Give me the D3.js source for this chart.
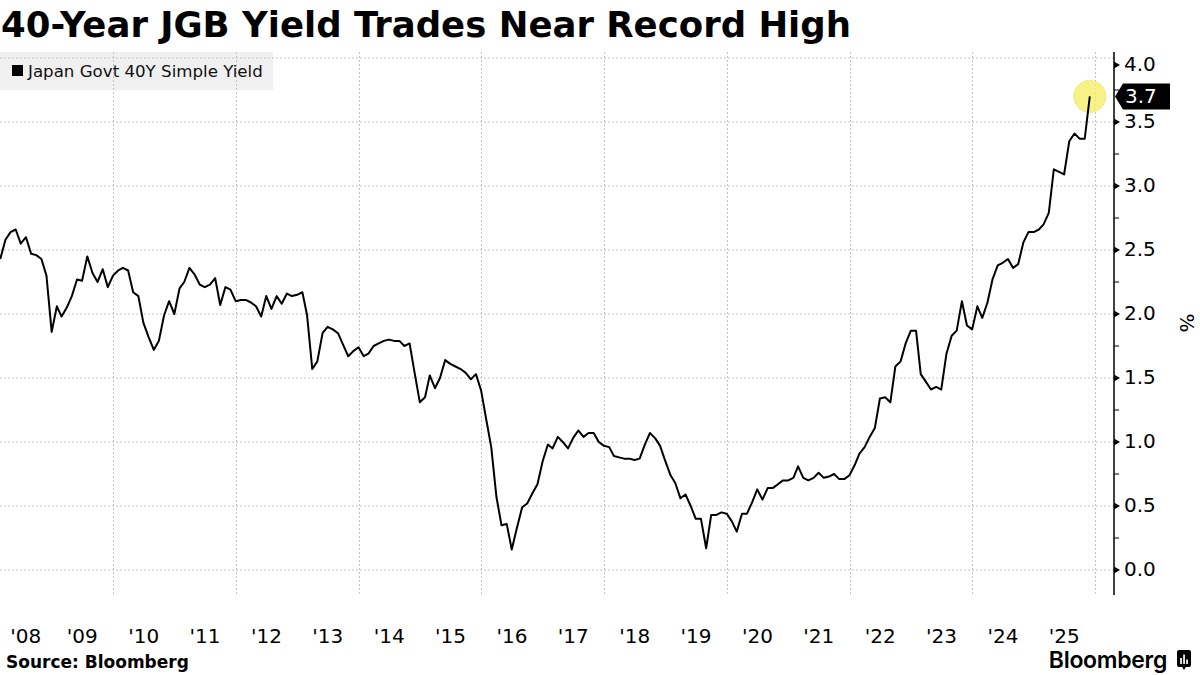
<!DOCTYPE html>
<html>
<head>
<meta charset="utf-8">
<script src="https://cdn.jsdelivr.net/npm/d3@7"></script>
<style>
  body { margin: 0; background: #fff; }
  svg { display: block; font-family: "DejaVu Sans", sans-serif; }
</style>
</head>
<body>
<div id="chart"></div>
<script>
// monthly values, first one is March 2008
var startMonth = "2008-03-01";
var yields = [
  2.43, 2.58, 2.64, 2.66, 2.55, 2.60, 2.47, 2.46, 2.43, 2.30,
  1.86, 2.06, 1.98, 2.05, 2.14, 2.27, 2.26, 2.45, 2.32, 2.25,
  2.35, 2.21, 2.30, 2.34, 2.36, 2.34, 2.17, 2.14, 1.93, 1.82,
  1.72, 1.79, 1.99, 2.10, 2.00, 2.20, 2.25, 2.36, 2.31, 2.23,
  2.21, 2.23, 2.28, 2.07, 2.21, 2.19, 2.10, 2.11, 2.11, 2.09,
  2.06, 1.98, 2.14, 2.04, 2.14, 2.08, 2.16, 2.14, 2.15, 2.17,
  1.99, 1.57, 1.63, 1.85, 1.90, 1.88, 1.85, 1.76, 1.67, 1.71,
  1.74, 1.67, 1.69, 1.75, 1.77, 1.79, 1.80, 1.79, 1.79, 1.75,
  1.77, 1.54, 1.31, 1.35, 1.52, 1.42, 1.50, 1.64, 1.61, 1.59,
  1.57, 1.54, 1.49, 1.53, 1.40, 1.17, 0.96, 0.57, 0.35, 0.36,
  0.16, 0.33, 0.49, 0.52, 0.60, 0.67, 0.85, 0.98, 0.95, 1.04,
  1.00, 0.95, 1.03, 1.09, 1.04, 1.07, 1.07, 1.00, 0.97, 0.96,
  0.89, 0.88, 0.87, 0.87, 0.86, 0.87, 0.98, 1.07, 1.03, 0.97,
  0.85, 0.74, 0.68, 0.56, 0.59, 0.50, 0.40, 0.40, 0.17, 0.43,
  0.43, 0.45, 0.44, 0.38, 0.30, 0.44, 0.44, 0.53, 0.63, 0.55,
  0.64, 0.64, 0.67, 0.70, 0.70, 0.72, 0.81, 0.72, 0.70, 0.72,
  0.76, 0.72, 0.73, 0.75, 0.71, 0.71, 0.74, 0.82, 0.91, 0.96,
  1.04, 1.11, 1.34, 1.35, 1.31, 1.59, 1.63, 1.77, 1.87, 1.87,
  1.53, 1.47, 1.41, 1.43, 1.41, 1.69, 1.83, 1.87, 2.10, 1.91,
  1.88, 2.06, 1.97, 2.09, 2.27, 2.38, 2.40, 2.43, 2.36, 2.39,
  2.56, 2.64, 2.64, 2.66, 2.70, 2.79, 3.13, 3.11, 3.09, 3.35,
  3.41, 3.37, 3.37, 3.70
];
var yTicks = [0, 0.5, 1.0, 1.5, 2.0, 2.5, 3.0, 3.5, 4.0];
var yMinorTicks = [0.25, 0.75, 1.25, 1.75, 2.25, 2.75, 3.25, 3.75];
var labelYears = [2008, 2009, 2010, 2011, 2012, 2013, 2014, 2015, 2016,
                  2017, 2018, 2019, 2020, 2021, 2022, 2023, 2024, 2025];
var gridYears = [2010, 2012, 2014, 2016, 2018, 2020, 2022, 2024, 2026];
var seriesName = "Japan Govt 40Y Simple Yield";
var lastLabel = "3.7";

var width = 1200, height = 675;
var axisX = 1114, plotTop = 52, plotBottom = 595;

var svg = d3.select("#chart")
    .append("svg")
    .attr("width", width)
    .attr("height", height);

var start = d3.timeParse("%Y-%m-%d")(startMonth);
var data = yields.map(function(v, i) {
    return {date: d3.timeMonth.offset(start, i), value: v};
});

var x = d3.scaleTime()
    .domain([new Date(2010, 0, 1), new Date(2026, 0, 1)])
    .range([113, 1095]);
var y = d3.scaleLinear()
    .domain([0, 4])
    .range([570, 58]);

// legend box sits under the grid
svg.append("rect")
    .attr("x", 0).attr("y", 52)
    .attr("width", 273).attr("height", 38)
    .attr("fill", "#f0f0f0");

// grid
svg.selectAll(".hgrid")
    .data(yTicks)
    .enter()
    .append("line")
    .attr("x1", 0).attr("x2", axisX)
    .attr("y1", function(d) { return y(d); })
    .attr("y2", function(d) { return y(d); })
    .attr("stroke", "#c4c4c4")
    .attr("stroke-dasharray", "2,2");

svg.selectAll(".vgrid")
    .data(gridYears)
    .enter()
    .append("line")
    .attr("x1", function(d) { return Math.round(x(new Date(d, 0, 1))) + 0.5; })
    .attr("x2", function(d) { return Math.round(x(new Date(d, 0, 1))) + 0.5; })
    .attr("y1", plotTop).attr("y2", plotBottom)
    .attr("stroke", "#c4c4c4")
    .attr("stroke-dasharray", "2,2");

// legend content
svg.append("rect")
    .attr("x", 12).attr("y", 65)
    .attr("width", 11).attr("height", 11)
    .attr("fill", "#000");

var legendText = svg.append("text")
    .attr("x", 28).attr("y", 71)
    .attr("dominant-baseline", "central")
    .attr("font-size", 15)
    .attr("fill", "#111")
    .text(seriesName);
legendText.attr("font-size", 15 * 235 / legendText.node().getComputedTextLength());

// title
var title = svg.append("text")
    .attr("x", 1).attr("y", 37)
    .attr("font-weight", "bold")
    .attr("font-size", 34)
    .attr("fill", "#000")
    .text("40-Year JGB Yield Trades Near Record High");
title.attr("font-size", 34 * 850 / title.node().getComputedTextLength());

// right axis
var yAxis = d3.axisRight(y)
    .tickValues(yTicks)
    .tickFormat(d3.format(".1f"))
    .tickSize(0)
    .tickPadding(10);

var gAxis = svg.append("g")
    .attr("transform", "translate(" + axisX + ",0)")
    .call(yAxis);
gAxis.select(".domain").remove();
gAxis.selectAll(".tick")
    .attr("transform", function(d) { return "translate(0," + (y(d) + (d === 4 ? 7 : 0)) + ")"; });
gAxis.selectAll(".tick text")
    .attr("font-family", "DejaVu Sans")
    .attr("font-size", 20)
    .attr("fill", "#000");
gAxis.selectAll(".tick")
    .append("path")
    .attr("d", "M0,-3.5L6,0L0,3.5Z")
    .attr("fill", "#000");

svg.append("line")
    .attr("x1", axisX).attr("x2", axisX)
    .attr("y1", plotTop).attr("y2", plotBottom)
    .attr("stroke", "#000")
    .attr("stroke-width", 1.5);

svg.selectAll(".minor")
    .data(yMinorTicks)
    .enter()
    .append("line")
    .attr("x1", axisX).attr("x2", axisX + 5)
    .attr("y1", function(d) { return y(d); })
    .attr("y2", function(d) { return y(d); })
    .attr("stroke", "#000");

svg.append("text")
    .attr("transform", "translate(1180,323) rotate(90)")
    .attr("text-anchor", "middle")
    .attr("font-size", 20)
    .attr("fill", "#000")
    .text("%");

// year labels centred in the visible part of each year
svg.selectAll(".year")
    .data(labelYears)
    .enter()
    .append("text")
    .attr("x", function(d) {
        var a = Math.max(0, x(new Date(d, 0, 1)));
        var b = Math.min(axisX, x(new Date(d + 1, 0, 1)));
        return (a + b) / 2;
    })
    .attr("y", 643)
    .attr("text-anchor", "middle")
    .attr("font-size", 20)
    .attr("fill", "#000")
    .text(function(d) { return "'" + String(d).slice(2); });

// highlight on last point
var last = data[data.length - 1];
svg.append("circle")
    .attr("cx", x(last.date))
    .attr("cy", y(last.value))
    .attr("r", 16)
    .attr("fill", "#f6ee6a")
    .attr("fill-opacity", 0.8)
    .attr("stroke", "#e6dc40")
    .attr("stroke-dasharray", "1,1");

// the line
var line = d3.line()
    .x(function(d) { return x(d.date); })
    .y(function(d) { return y(d.value); });

svg.append("path")
    .datum(data)
    .attr("d", line)
    .attr("fill", "none")
    .attr("stroke", "#000")
    .attr("stroke-width", 2)
    .attr("stroke-linejoin", "round");

// last value tag
var ly = y(last.value);
svg.append("path")
    .attr("d", "M" + (axisX + 1) + "," + ly + "L" + (axisX + 9) + "," + (ly - 13) +
               "L1170," + (ly - 13) + "L1170," + (ly + 13) + "L" + (axisX + 9) + "," + (ly + 13) + "Z")
    .attr("fill", "#000");
svg.append("text")
    .attr("x", 1125).attr("y", ly)
    .attr("dominant-baseline", "central")
    .attr("font-size", 20)
    .attr("fill", "#fff")
    .text(lastLabel);

// footer
svg.append("text")
    .attr("x", 6).attr("y", 668)
    .attr("font-weight", "bold")
    .attr("font-size", 17)
    .attr("fill", "#000")
    .text("Source: Bloomberg");

svg.append("text")
    .attr("x", 1167).attr("y", 668)
    .attr("text-anchor", "end")
    .attr("font-family", "Inter")
    .attr("font-weight", 600)
    .attr("font-size", 23)
    .attr("letter-spacing", -0.3)
    .attr("fill", "#000")
    .text("Bloomberg");

var logo = svg.append("g").attr("transform", "translate(1177,650)");
logo.append("path")
    .attr("d", "M2,0H12Q14,0 14,2V15Q14,17 12,17H9L7,20L5,17H2Q0,17 0,15V2Q0,0 2,0Z")
    .attr("fill", "#000");
[[3.2, 8], [6.2, 4.5], [9.2, 9.5]].forEach(function(b) {
    logo.append("rect")
        .attr("x", b[0]).attr("y", b[1])
        .attr("width", 1.7).attr("height", 14 - b[1])
        .attr("fill", "#fff");
});
</script>
</body>
</html>
